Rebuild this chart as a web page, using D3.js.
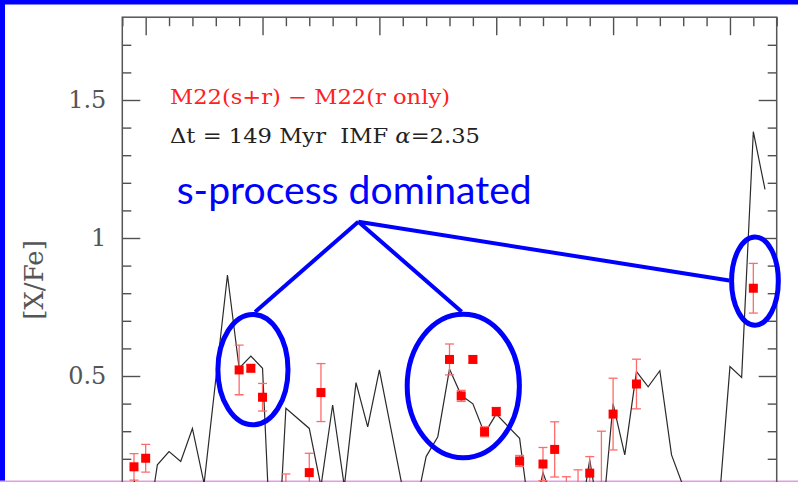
<!DOCTYPE html>
<html><head><meta charset="utf-8">
<script src="https://cdn.jsdelivr.net/npm/d3@7"></script>
<style>html,body{margin:0;padding:0;background:#fff;overflow:hidden}</style>
</head><body>
<svg id="c" width="798" height="482"></svg>
<script>
// ---- data ----
const modelZ = [29,30,31,32,33,34,35,37,38,39,40,41,42,44,45,46,47,48,49,50,52,53,54,55,56,57,58,59,60,62,63,64,65,66,67,68,69,70,71,72,73,74,75,76,77,78,79,80,81,82,83];
const modelVal = [0.125,-0.1,0.178,0.226,0.19,0.31,0.11,0.866,0.528,0.572,0.528,-0.4,0.383,0.31,0.1,0.395,0.1,0.476,0.316,0.522,0.09,0.0,0.208,0.28,0.525,0.43,0.399,0.292,0.362,0.274,-0.05,0.15,0.03,-0.05,-0.07,0.196,-0.06,0.399,0.214,0.516,0.461,0.519,0.214,0.1,-0.1,-0.1,0.0,0.534,0.495,1.385,1.176];
const obsZ   = [29,30,38,39,40,42,44,45,56,57,58,59,60,62,64,65,66,67,68,69,70,72,82];
const obsVal = [0.171,0.202,0.522,0.528,0.423,0.07,0.150,0.44,0.56,0.428,0.56,0.298,0.371,0.192,0.181,0.234,0.08,0.07,0.148,0.1,0.362,0.471,0.818];
const obsErr = [0.048,0.05,0.09,0.012,0.05,0.075,0.07,0.105,0.056,0.02,0.012,0.018,0.015,0.02,0.06,0.1,0.055,0.09,0.06,0.2,0.13,0.09,0.09];
const xMajor = [30,40,50,60,70,80];
const xMinor = [28,32,34,36,38,42,44,46,48,52,54,56,58,62,64,66,68,72,74,76,78,82,84];
const yMajor = [0.5,1,1.5];
const yMinor = [0.0,0.1,0.2,0.3,0.4,0.6,0.7,0.8,0.9,1.1,1.2,1.3,1.4,1.6,1.7];
const yTitle = "[X/Fe]";
const legend1 = "M22(s+r) \u2212 M22(r only)";
const annotation = "s-process dominated";
// annotation groups (data coordinates)
const circled = [{z:39.18,v:0.523,dz:3.0,dv:0.2},{z:57.18,v:0.464,dz:4.8,dv:0.26},{z:82.14,v:0.844,dz:2.0,dv:0.16}];
const hub = {z:48.2,v:1.059};
const spokes = [{z:39.36,v:0.732},{z:57.04,v:0.733},{z:79.94,v:0.846}];

// ---- chart ----
const svg = d3.select("#c");
const x = d3.scaleLinear().domain([28,84]).range([122.3,776.7]);
const y = d3.scaleLinear().domain([0.5,1.5]).range([376,100]);
const pTop = y(1.8), pBot = y(-0.1), pLeft = x(28), pRight = x(84);

// slide background pieces
svg.append("rect").attr("x",0).attr("y",0).attr("width",798).attr("height",482).attr("fill","#fff");
svg.append("rect").attr("x",0).attr("y",0).attr("width",798).attr("height",4.5).attr("fill","#0000ff");
svg.append("rect").attr("x",0).attr("y",0).attr("width",5).attr("height",482).attr("fill","#0000ff");
svg.append("rect").attr("x",0).attr("y",480.5).attr("width",798).attr("height",1.5).attr("fill","#e49ae8");

svg.append("defs").append("clipPath").attr("id","pc")
  .append("rect").attr("x",pLeft).attr("y",pTop).attr("width",pRight-pLeft).attr("height",pBot-pTop);

const tickCol = "#505050";
function styleAxis(g){ g.select(".domain").remove(); g.selectAll(".tick line").attr("stroke",tickCol).attr("stroke-width",1.4); }
svg.append("g").attr("transform",`translate(0,${pTop})`).call(d3.axisTop(x).tickValues(xMinor).tickSize(-9).tickFormat("")).call(styleAxis);
svg.append("g").attr("transform",`translate(0,${pTop})`).call(d3.axisTop(x).tickValues(xMajor).tickSize(-18).tickFormat("")).call(styleAxis);
svg.append("g").attr("transform",`translate(${pLeft},0)`).call(d3.axisLeft(y).tickValues(yMinor).tickSize(-9).tickFormat("")).call(styleAxis);
const yl = svg.append("g").attr("transform",`translate(${pLeft},0)`)
  .call(d3.axisLeft(y).tickValues(yMajor).tickSize(-18).tickPadding(16).tickFormat(d=>String(d))).call(styleAxis);
yl.selectAll("text").attr("font-family","DejaVu Serif").attr("font-size",24).attr("fill","#555");
svg.append("g").attr("transform",`translate(${pRight},0)`).call(d3.axisRight(y).tickValues(yMinor).tickSize(-9).tickFormat("")).call(styleAxis);
svg.append("g").attr("transform",`translate(${pRight},0)`).call(d3.axisRight(y).tickValues(yMajor).tickSize(-18).tickFormat("")).call(styleAxis);

svg.append("rect").attr("x",pLeft).attr("y",pTop).attr("width",pRight-pLeft).attr("height",pBot-pTop)
  .attr("fill","none").attr("stroke","#555").attr("stroke-width",1.5);

svg.append("text").attr("transform",`translate(43,280) rotate(-90)`).attr("text-anchor","middle")
  .attr("font-family","DejaVu Serif").attr("font-size",26).attr("fill","#555").text(yTitle);

const plot = svg.append("g").attr("clip-path","url(#pc)");
const model = modelZ.map((z,i)=>({z,v:modelVal[i]}));
plot.append("path").datum(model)
  .attr("d",d3.line().x(d=>x(d.z)).y(d=>y(d.v)))
  .attr("fill","none").attr("stroke","#2a2a2a").attr("stroke-width",1.2);

const obs = obsZ.map((z,i)=>({z,v:obsVal[i],e:obsErr[i]}));
const eb = plot.append("g").attr("stroke","#ff6a6a").attr("stroke-width",1.3);
obs.forEach(d=>{
  const cx=x(d.z), y1=y(d.v+d.e), y2=y(d.v-d.e);
  eb.append("line").attr("x1",cx).attr("x2",cx).attr("y1",y1).attr("y2",y2);
  eb.append("line").attr("x1",cx-4.5).attr("x2",cx+4.5).attr("y1",y1).attr("y2",y1);
  eb.append("line").attr("x1",cx-4.5).attr("x2",cx+4.5).attr("y1",y2).attr("y2",y2);
});
plot.append("g").selectAll("rect").data(obs).join("rect")
  .attr("x",d=>x(d.z)-4.5).attr("y",d=>y(d.v)-4.5).attr("width",9).attr("height",9).attr("fill","#ff0000");

// legend text
svg.append("text").attr("x",170).attr("y",104).attr("font-family","DejaVu Serif").attr("font-size",20)
  .attr("fill","#ff2020").attr("textLength",280).attr("lengthAdjust","spacingAndGlyphs")
  .style("white-space","pre").text(legend1);
const t2 = svg.append("text").attr("x",170).attr("y",143).attr("font-family","DejaVu Serif").attr("font-size",20)
  .attr("fill","#222").attr("textLength",310).attr("lengthAdjust","spacingAndGlyphs").style("white-space","pre");
t2.append("tspan").text("\u0394t = 149 Myr  IMF ");
t2.append("tspan").attr("font-style","italic").text("\u03b1");
t2.append("tspan").text("=2.35");

// annotation
const blue = "#0000ff";
svg.append("text").attr("x",176.7).attr("y",204).attr("font-family","Lato").attr("font-size",39)
  .attr("fill",blue).attr("textLength",355).attr("lengthAdjust","spacingAndGlyphs").text(annotation);
spokes.forEach(s=>{
  svg.append("line").attr("x1",x(hub.z)).attr("y1",y(hub.v)).attr("x2",x(s.z)).attr("y2",y(s.v))
    .attr("stroke",blue).attr("stroke-width",4);
});
circled.forEach(c=>{
  svg.append("ellipse").attr("cx",x(c.z)).attr("cy",y(c.v))
    .attr("rx",x(c.z+c.dz)-x(c.z)).attr("ry",y(c.v)-y(c.v+c.dv))
    .attr("fill","none").attr("stroke",blue).attr("stroke-width",5);
});
</script>
</body></html>
